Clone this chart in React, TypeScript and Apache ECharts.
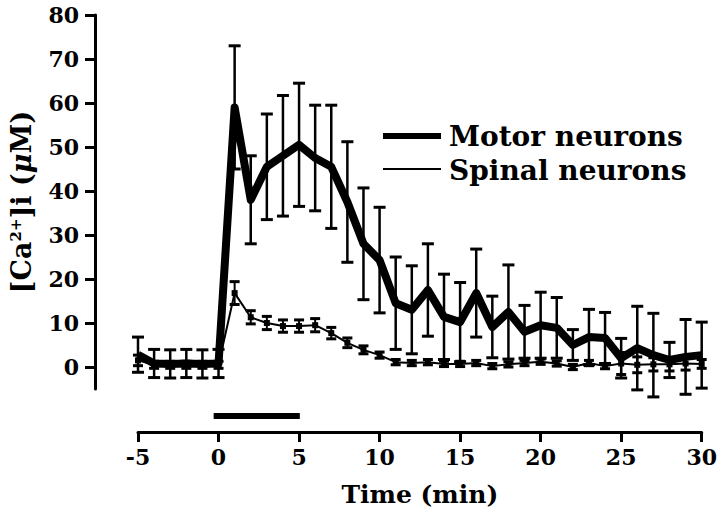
import React, { useEffect, useRef } from "react";
import * as echarts from "echarts";

const times = [-5, -4, -3, -2, -1, 0, 1, 2, 3, 4, 5, 6, 7, 8, 9, 10, 11, 12, 13, 14, 15, 16, 17, 18, 19, 20, 21, 22, 23, 24, 25, 26, 27, 28, 29, 30];

const motorMean = [2.8, 0.8, 0.7, 0.8, 0.7, 0.8, 59, 38, 45.5, 48, 50.5, 47.5, 45.5, 37.5, 28, 24.3, 14.5, 13, 17.5, 11.4, 10.2, 16.8, 9.1, 12.5, 8, 9.5, 8.9, 5, 6.8, 6.6, 2, 4.3, 2.7, 1.6, 2.3, 2.7];
const motorErr = [4, 3.2, 3.2, 3.2, 3.2, 3.2, 14, 10, 12, 13.7, 14, 12, 14, 13.7, 12.7, 12, 10.5, 10, 10.5, 9.7, 9, 10, 7, 10.7, 6, 7.5, 6.9, 3.5, 6.3, 5.8, 4.5, 9.5, 9.5, 4, 8.5, 7.5];

const spinalMean = [1.5, 0.5, 0.5, 0.5, 0.5, 0.5, 16.8, 11.3, 10, 9.3, 9.3, 9.5, 7.7, 5.5, 3.9, 2.7, 1.1, 0.9, 1.1, 0.7, 0.7, 0.9, 0.2, 0.6, 0.9, 1.2, 0.8, 0, 0.9, 0.2, 0.8, 0.5, 0.6, 0.6, 0.8, 0.7];
const spinalErr = [1.2, 0.8, 0.8, 0.8, 0.8, 0.8, 2.6, 1.5, 1.5, 1.4, 1.4, 1.5, 1.3, 1.1, 0.9, 0.7, 0.6, 0.6, 0.6, 0.6, 0.6, 0.6, 0.6, 0.6, 0.6, 0.6, 0.6, 0.6, 0.6, 0.6, 2.5, 1.8, 1.5, 1.5, 1.5, 1];

const yTicks = [0, 10, 20, 30, 40, 50, 60, 70, 80];
const stimulus = [-0.1, 5.2];
const seriesNames = ["Motor neurons", "Spinal neurons"];

const FONT = "DejaVu Serif";

function errorSeries(mean: number[], err: number[], halfCap: number, stemW: number, capW: number) {
  return {
    type: "custom",
    xAxisIndex: 0,
    yAxisIndex: 0,
    z: 1,
    silent: true,
    encode: { x: 0, y: [1, 2] },
    data: times.map((t, i) => [t, mean[i] - err[i], mean[i] + err[i]]),
    renderItem: (params: any, api: any) => {
      const x = api.value(0);
      const lo = api.coord([x, api.value(1)]);
      const hi = api.coord([x, api.value(2)]);
      const st = { stroke: "#000", lineWidth: stemW };
      const ct = { stroke: "#000", lineWidth: capW };
      return {
        type: "group",
        children: [
          { type: "line", shape: { x1: lo[0], y1: lo[1], x2: hi[0], y2: hi[1] }, style: st },
          { type: "line", shape: { x1: hi[0] - halfCap, y1: hi[1], x2: hi[0] + halfCap, y2: hi[1] }, style: ct },
          { type: "line", shape: { x1: lo[0] - halfCap, y1: lo[1], x2: lo[0] + halfCap, y2: lo[1] }, style: ct },
        ],
      };
    },
  };
}

export default function App() {
  const ref = useRef<HTMLDivElement>(null);
  useEffect(() => {
    if (!ref.current) return;
    const chart = echarts.init(ref.current, null, { renderer: "svg" });
    const option: any = {
      animation: false,
      backgroundColor: "#fff",
      textStyle: { fontFamily: FONT, fontWeight: "bold", color: "#000" },
      grid: [
        { left: 134, right: 17, top: 15, bottom: 126 },
        { left: 134, right: 17, top: 412, height: 8 },
      ],
      xAxis: [
        {
          type: "value",
          gridIndex: 0,
          min: -5,
          max: 30,
          interval: 5,
          offset: 43,
          splitLine: { show: false },
          axisLine: { show: true, onZero: false, lineStyle: { color: "#000", width: 3 } },
          axisTick: { show: true, inside: false, length: 10, lineStyle: { color: "#000", width: 3 } },
          axisLabel: { color: "#000", fontFamily: FONT, fontWeight: "bold", fontSize: 22, margin: 14 },
          name: "Time (min)",
          nameLocation: "middle",
          nameGap: 50,
          nameTextStyle: { color: "#000", fontFamily: FONT, fontWeight: "bold", fontSize: 25 },
        },
        { type: "value", gridIndex: 1, min: -5, max: 30, show: false },
      ],
      yAxis: [
        {
          type: "value",
          gridIndex: 0,
          min: -5,
          max: 80,
          offset: 43,
          splitLine: { show: false },
          axisLine: { show: true, onZero: false, lineStyle: { color: "#000", width: 3 } },
          axisTick: { show: true, inside: false, length: 10, customValues: yTicks, lineStyle: { color: "#000", width: 3 } },
          axisLabel: { color: "#000", fontFamily: FONT, fontWeight: "bold", fontSize: 22, margin: 16, customValues: yTicks },
          name: "[Ca{sup|2+}]i ({it|μ}M)",
          nameLocation: "middle",
          nameGap: 60,
          nameTextStyle: {
            color: "#000",
            fontFamily: FONT,
            fontWeight: "bold",
            fontSize: 27,
            rich: {
              sup: { fontSize: 15, fontFamily: FONT, fontWeight: "bold", verticalAlign: "top", padding: [0, 0, 12, 0] },
              it: { fontSize: 27, fontFamily: FONT, fontWeight: "bold", fontStyle: "italic" },
            },
          },
        },
        { type: "value", gridIndex: 1, min: 0, max: 1, show: false },
      ],
      series: [
        errorSeries(motorMean, motorErr, 6, 2.5, 3),
        errorSeries(spinalMean, spinalErr, 5, 2, 3),
        {
          name: seriesNames[0],
          type: "line",
          xAxisIndex: 0,
          yAxisIndex: 0,
          z: 3,
          data: times.map((t, i) => [t, motorMean[i]]),
          showSymbol: false,
          symbol: "none",
          lineStyle: { color: "#000", width: 8, join: "round" },
          itemStyle: { color: "#000" },
        },
        {
          name: seriesNames[1],
          type: "line",
          xAxisIndex: 0,
          yAxisIndex: 0,
          z: 4,
          data: times.map((t, i) => [t, spinalMean[i]]),
          symbol: "rect",
          symbolSize: 6,
          lineStyle: { color: "#000", width: 2 },
          itemStyle: { color: "#000" },
        },
        {
          name: "stimulus",
          type: "line",
          xAxisIndex: 1,
          yAxisIndex: 1,
          data: [[stimulus[0], 0.5], [stimulus[1], 0.5]],
          symbol: "none",
          lineStyle: { color: "#000", width: 6, cap: "butt" },
        },
      ],
      graphic: [
        {
          type: "group",
          left: 380,
          top: 122,
          children: [
            { type: "line", shape: { x1: 0, y1: 15, x2: 58, y2: 15 }, style: { stroke: "#000", lineWidth: 6 } },
            { type: "line", shape: { x1: 0, y1: 48, x2: 58, y2: 48 }, style: { stroke: "#000", lineWidth: 2 } },
            {
              type: "text",
              x: 66,
              y: 15,
              style: { text: seriesNames[0], fontFamily: FONT, fontWeight: "bold", fontSize: 28, fill: "#000", verticalAlign: "middle", align: "left" },
            },
            {
              type: "text",
              x: 66,
              y: 49,
              style: { text: seriesNames[1], fontFamily: FONT, fontWeight: "bold", fontSize: 28, fill: "#000", verticalAlign: "middle", align: "left" },
            },
          ],
        },
      ],
    };
    chart.setOption(option);
    return () => chart.dispose();
  }, []);
  return <div ref={ref} style={{ position: "fixed", left: 0, top: 0, width: 720, height: 515 }} />;
}
